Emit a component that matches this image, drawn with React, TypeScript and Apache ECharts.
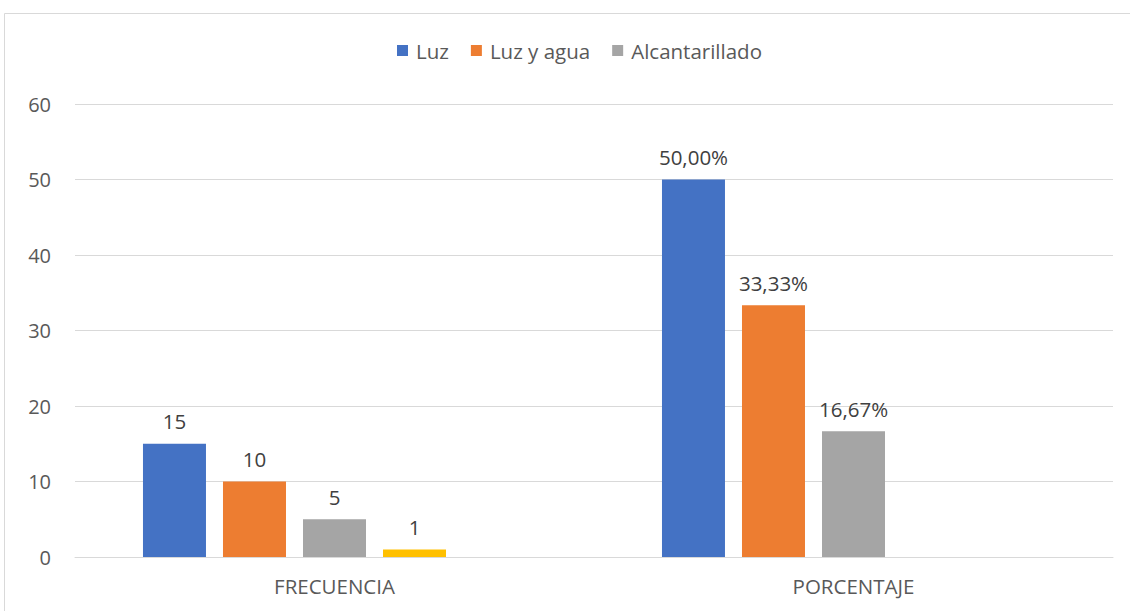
import React, { useEffect, useRef } from "react";
import * as echarts from "echarts";

const categories = ["FRECUENCIA", "PORCENTAJE"];
const luz = [15, 50];
const luzYAgua = [10, 33.33];
const alcantarillado = [5, 16.67];
const otro = [1, null];
const vacio = [null, null];
const yTicks = { min: 0, max: 60, interval: 10 };

const FONT = "'Open Sans', 'Liberation Sans', sans-serif";
const TXT = "#595959";

export default function App() {
  const ref = useRef<HTMLDivElement>(null);
  useEffect(() => {
    if (!ref.current) return;
    const chart = echarts.init(ref.current, undefined, { renderer: "svg" });
    const label = {
      show: true,
      position: "top",
      distance: 12,
      color: "#404040",
      fontSize: 20.5,
      fontFamily: FONT,
      formatter: (p: any) =>
        p.value == null
          ? ""
          : p.dataIndex === 1
          ? Number(p.value).toFixed(2).replace(".", ",") + "%"
          : String(p.value),
    };
    const mk = (name: string, data: any[], color: string) => ({
      name,
      type: "bar",
      data,
      barWidth: 63,
      barGap: "27%",
      itemStyle: { color },
      label,
    });
    chart.setOption({
      animation: false,
      textStyle: { fontFamily: FONT },
      graphic: [
        {
          type: "rect",
          shape: { x: 4.5, y: 13.5, width: 1200, height: 700 },
          style: { fill: "none", stroke: "#D9D9D9", lineWidth: 1 },
          silent: true,
        },
      ],
      legend: {
        data: ["Luz", "Luz y agua", "Alcantarillado"],
        top: 35,
        left: 392,
        itemWidth: 11,
        itemHeight: 11,
        itemGap: 22,
        icon: "rect",
        textStyle: { color: TXT, fontSize: 20.5, fontFamily: FONT, padding: [0, 0, 0, 3] },
      },
      grid: { left: 75, right: 17, top: 104, bottom: 54, containLabel: false },
      xAxis: {
        type: "category",
        data: categories,
        axisLine: { lineStyle: { color: "#D9D9D9", width: 1 } },
        axisTick: { show: false },
        axisLabel: { color: TXT, fontSize: 20.5, fontFamily: FONT, margin: 18 },
      },
      yAxis: {
        type: "value",
        min: yTicks.min,
        max: yTicks.max,
        interval: yTicks.interval,
        axisLine: { show: false },
        axisTick: { show: false },
        splitLine: { lineStyle: { color: "#D9D9D9", width: 1 } },
        axisLabel: { color: TXT, fontSize: 20, fontFamily: FONT, margin: 24 },
      },
      series: [
        mk("Luz", luz, "#4472C4"),
        mk("Luz y agua", luzYAgua, "#ED7D31"),
        mk("Alcantarillado", alcantarillado, "#A5A5A5"),
        mk("Serie 4", otro, "#FFC000"),
        mk("Serie 5", vacio, "#5B9BD5"),
      ],
    });
    return () => chart.dispose();
  }, []);
  return (
    <div
      ref={ref}
      style={{ position: "absolute", left: 0, top: 0, width: 1130, height: 611, background: "#fff" }}
    />
  );
}
